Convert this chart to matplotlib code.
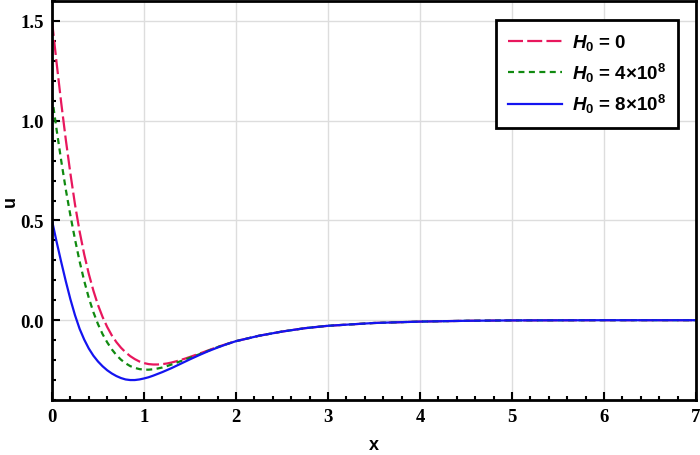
import numpy as np
import matplotlib
matplotlib.use('Agg')
import matplotlib.pyplot as plt
from matplotlib.ticker import MultipleLocator, FormatStrFormatter

plt.rcParams['mathtext.fontset'] = 'custom'
plt.rcParams['mathtext.it'] = 'Liberation Sans:italic:bold'
plt.rcParams['mathtext.rm'] = 'Liberation Sans:bold'
plt.rcParams['mathtext.bf'] = 'Liberation Sans:bold'

# values
x = [0.0, 0.05, 0.1, 0.15, 0.2, 0.25, 0.3, 0.35, 0.4, 0.45, 0.5, 0.55, 0.6, 0.65, 0.7,
     0.75, 0.8, 0.85, 0.9, 0.95, 1.0, 1.05, 1.1, 1.15, 1.2, 1.25, 1.3, 1.35, 1.4, 1.45,
     1.5, 1.6, 1.7, 1.8, 1.9, 2.0, 2.25, 2.5, 2.75, 3.0, 3.5, 4.0, 4.5, 5.0, 6.0, 7.0]

u_h0 = [1.50, 1.29, 1.09, 0.905, 0.735, 0.58, 0.445, 0.33, 0.232, 0.148, 0.076, 0.016,
        -0.034, -0.076, -0.11, -0.138, -0.161, -0.18, -0.195, -0.207, -0.215, -0.22,
        -0.222, -0.222, -0.22, -0.217, -0.212, -0.206, -0.199, -0.192, -0.184,
        -0.168, -0.151, -0.134, -0.119, -0.105, -0.078, -0.057, -0.040, -0.028,
        -0.014, -0.007, -0.003, -0.001, 0.0, 0.0]

u_h4 = [1.12, 0.955, 0.80, 0.655, 0.525, 0.405, 0.295, 0.197, 0.112, 0.04, -0.02, -0.07,
        -0.111, -0.146, -0.175, -0.198, -0.216, -0.23, -0.239, -0.245, -0.248, -0.248,
        -0.246, -0.242, -0.237, -0.23, -0.222, -0.214, -0.205, -0.197, -0.188,
        -0.171, -0.153, -0.135, -0.12, -0.105, -0.078, -0.057, -0.040, -0.028,
        -0.014, -0.007, -0.003, -0.001, 0.0, 0.0]

u_h8 = [0.50, 0.393, 0.292, 0.195, 0.105, 0.025, -0.043, -0.097, -0.142, -0.178, -0.207,
        -0.231, -0.251, -0.267, -0.28, -0.29, -0.297, -0.30, -0.30, -0.297, -0.292,
        -0.286, -0.278, -0.269, -0.26, -0.25, -0.24, -0.229, -0.218, -0.207, -0.196,
        -0.175, -0.155, -0.137, -0.12, -0.105, -0.078, -0.057, -0.040, -0.028,
        -0.014, -0.007, -0.003, -0.001, 0.0, 0.0]

labels = [r'$H_0$ = 0', r'$H_0$ = 4×10$^{8}$', r'$H_0$ = 8×10$^{8}$']

fig = plt.figure(figsize=(7, 4.56), dpi=100)
ax = fig.add_axes([52/700, 1 - 401/456, 644/700, 399/456])

ax.plot(x, u_h0, color='#e8175d', lw=1.6, dashes=(6.75, 1.9), label=labels[0])
ax.plot(x, u_h4, color='#108a10', lw=1.6, dashes=(2.7, 2.0), label=labels[1])
ax.plot(x, u_h8, color='#1414f0', lw=1.6, label=labels[2])

ax.set_xlim(0, 7)
ax.set_ylim(-0.40, 1.60)
ax.xaxis.set_major_locator(MultipleLocator(1))
ax.xaxis.set_minor_locator(MultipleLocator(0.2))
ax.yaxis.set_major_locator(MultipleLocator(0.5))
ax.yaxis.set_minor_locator(MultipleLocator(0.1))
ax.yaxis.set_major_formatter(FormatStrFormatter('%.1f'))
ax.grid(True, which='major', color='#dddddd', lw=1)
ax.set_axisbelow(True)

ax.tick_params(which='both', direction='in', top=False, right=False, width=1.5,
               labelsize=13.5, labelfontfamily='Liberation Serif')
ax.tick_params(which='major', length=6, pad=6)
ax.tick_params(which='minor', length=3)
for lab in ax.get_xticklabels() + ax.get_yticklabels():
    lab.set_weight('bold')
for sp in ax.spines.values():
    sp.set_linewidth(2)

ax.set_xlabel('x', family='Liberation Sans', weight='bold', fontsize=13, labelpad=8)
ax.set_ylabel('u', family='Liberation Sans', weight='bold', fontsize=13)
ax.yaxis.set_label_coords(-0.052, 0.5)

leg = ax.legend(loc='upper right', bbox_to_anchor=(0.972, 0.952), borderaxespad=0,
                fancybox=False, framealpha=1, edgecolor='black', handlelength=2.9,
                handletextpad=0.5, borderpad=0.65, labelspacing=0.45,
                prop={'family': 'Liberation Sans', 'weight': 'bold', 'size': 13.5})
leg.get_frame().set_linewidth(2)

fig.savefig('out.png', dpi=100)
